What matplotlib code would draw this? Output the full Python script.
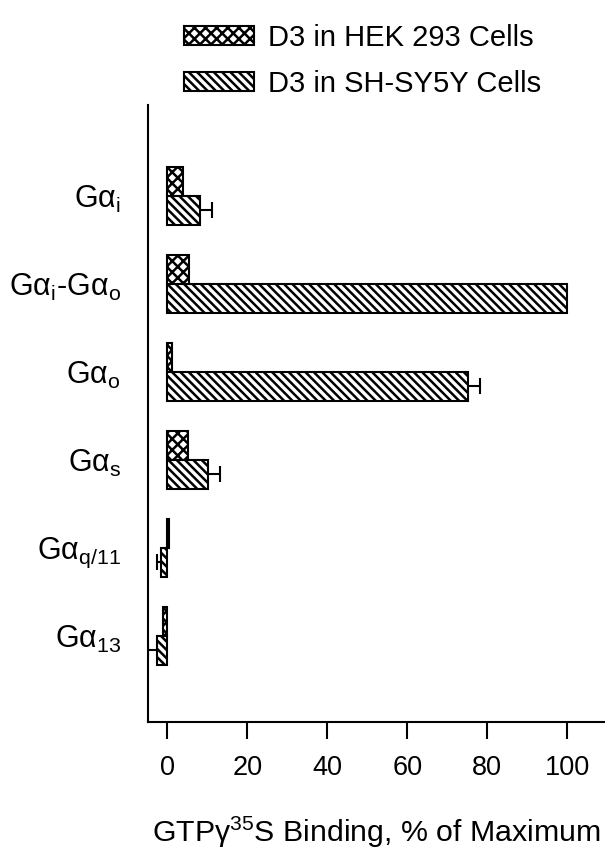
import matplotlib
matplotlib.use("Agg")
import matplotlib.pyplot as plt
from matplotlib.patches import Patch
import numpy as np

plt.rcParams['font.family'] = ['Liberation Sans', 'DejaVu Sans']
plt.rcParams['mathtext.fontset'] = 'custom'
plt.rcParams['mathtext.rm'] = 'Liberation Sans'
plt.rcParams['mathtext.it'] = 'Liberation Sans:italic'
plt.rcParams['hatch.linewidth'] = 1.8

categories = ['Gα$_\\mathregular{i}$', 'Gα$_\\mathregular{i}$-Gα$_\\mathregular{o}$', 'Gα$_\\mathregular{o}$',
              'Gα$_\\mathregular{s}$', 'Gα$_\\mathregular{q/11}$', 'Gα$_\\mathregular{13}$']
hek_values = [4.0, 5.5, 1.2, 5.2, 0.4, -1.0]
sh_values = [8.2, 100.0, 75.2, 10.2, -1.5, -2.5]
sh_errors = [3.0, 0.0, 3.0, 3.0, 1.0, 2.5]
series_labels = ['D3 in HEK 293 Cells', 'D3 in SH-SY5Y Cells']
xticks = [0, 20, 40, 60, 80, 100]

fig = plt.figure(figsize=(6.05, 8.51), dpi=100)
W, H = 605, 851
ax = fig.add_axes([147.5 / W, 129 / H, (605 - 147.5) / W, (722 - 105) / H])

y = np.arange(len(categories))
bh = 0.33
lw = 1.5
ax.barh(y - bh / 2, hek_values, height=bh, color='white', edgecolor='black',
        hatch='xxx', linewidth=lw, zorder=2)
ax.barh(y + bh / 2, sh_values, height=bh, color='white', edgecolor='black',
        hatch='\\\\\\\\', linewidth=lw, zorder=2)

# one-sided error bars (away from zero), cap only at the far end
vals = np.array(sh_values)
errs = np.array(sh_errors)
mask = errs > 0
ends = np.where(vals >= 0, vals + errs, vals - errs)
ax.hlines((y + bh / 2)[mask], vals[mask], ends[mask], color='black', linewidth=1.5, zorder=1)
ax.plot(ends[mask], (y + bh / 2)[mask], linestyle='none', marker='|', markersize=12,
        markeredgewidth=1.5, color='black', zorder=1)

ax.set_xlim(-5, 109.5)
ax.set_ylim(5.98, -1.03)
ax.set_xticks(xticks)
ax.set_xticklabels([str(t) for t in xticks], fontsize=19.5)
ax.set_yticks(y)
ax.set_yticklabels(categories, fontsize=22)
ax.tick_params(axis='x', direction='out', length=12, width=1.5, pad=12)
ax.tick_params(axis='y', length=0, pad=19)
for s in ['top', 'right']:
    ax.spines[s].set_visible(False)
for s in ['left', 'bottom']:
    ax.spines[s].set_linewidth(1.5)
    ax.spines[s].set_zorder(3)

ax.set_xlabel('GTPγ$^{35}$S Binding, % of Maximum', fontsize=21.8, labelpad=24)

handles = [Patch(facecolor='white', edgecolor='black', hatch='xxx', linewidth=lw),
           Patch(facecolor='white', edgecolor='black', hatch='\\\\\\\\', linewidth=lw)]
fig.legend(handles, series_labels, loc='upper left', bbox_to_anchor=(172 / W, 1 - 12 / H),
           frameon=False, fontsize=21, handlelength=2.4, handleheight=0.6,
           handletextpad=0.5, labelspacing=0.62, borderaxespad=0)

fig.savefig('out.png', dpi=100)
